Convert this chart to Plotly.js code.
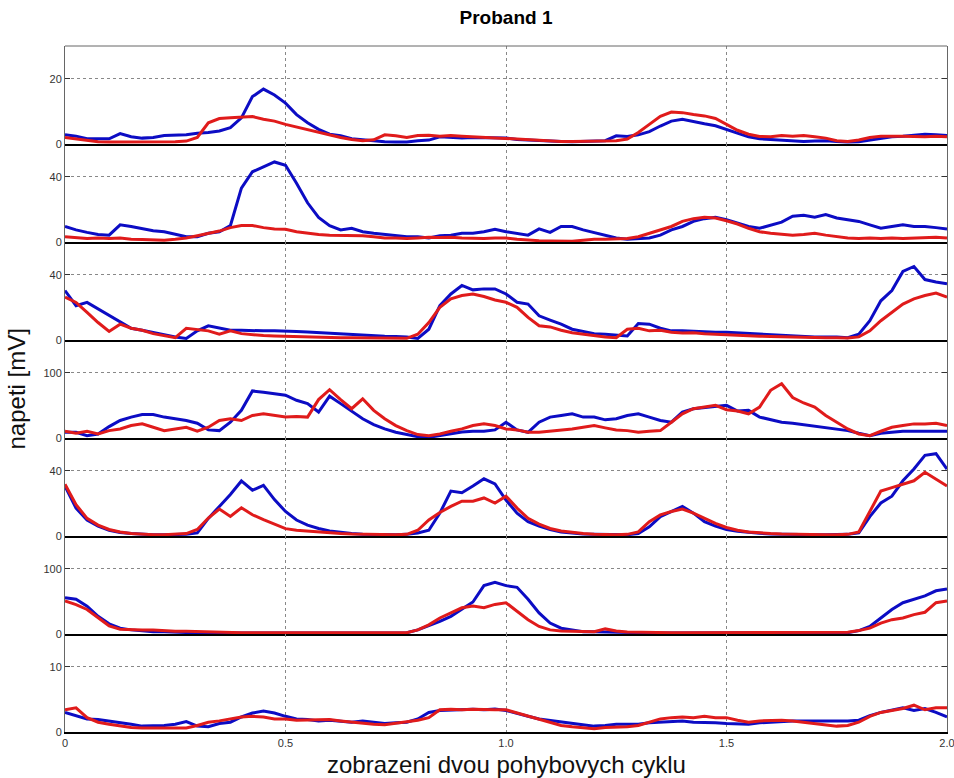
<!DOCTYPE html>
<html>
<head>
<meta charset="utf-8">
<script src="https://cdn.plot.ly/plotly-3.0.1.min.js"></script>
<style>html,body{margin:0;padding:0;background:#fff;}#chart{width:954px;height:778px;}</style>
</head>
<body>
<div id="chart"></div>
<script>
// shared time axis (two movement cycles)
const xs = [0,0.025,0.05,0.075,0.1,0.125,0.15,0.175,0.2,0.225,0.25,0.275,0.3,0.325,0.35,0.375,0.4,0.425,0.45,0.475,
  0.5,0.525,0.55,0.575,0.6,0.625,0.65,0.675,0.7,0.725,0.75,0.775,0.8,0.825,0.85,0.875,0.9,0.925,0.95,0.975,
  1.0,1.025,1.05,1.075,1.1,1.125,1.15,1.175,1.2,1.225,1.25,1.275,1.3,1.325,1.35,1.375,1.4,1.425,1.45,1.475,
  1.5,1.525,1.55,1.575,1.6,1.625,1.65,1.675,1.7,1.725,1.75,1.775,1.8,1.825,1.85,1.875,1.9,1.925,1.95,1.975,2.0];

const xTickVals = [0, 0.5, 1, 1.5, 2];
const xTickText = ['0', '0.5', '1.0', '1.5', '2.0'];

// panel y ranges and labelled tick
const yMax = [30, 60, 60, 150, 60, 150, 15];
const yTick = [20, 40, 40, 100, 40, 100, 10];

const p1Blue = [2.8,2.4,1.6,1.5,1.6,3.2,2.2,1.8,2.0,2.6, 2.8,2.8,3.3,3.5,4.0,5.0,8.0,14.5,16.8,15.0,
  12.5,9.0,6.5,4.5,3.0,2.5,1.6,1.3,0.9,0.7, 0.6,0.6,1.0,1.2,2.2,2.0,1.8,2.0,2.0,1.8,
  1.8,1.4,1.2,1.0,0.9,0.8,0.7,0.8,0.9,1.0, 2.5,2.3,2.8,3.8,5.5,7.0,7.6,6.8,6.2,5.6,
  4.4,3.2,2.2,1.6,1.4,1.0,0.8,0.8,0.9,1.0, 0.8,0.6,0.7,1.2,1.8,2.2,2.4,2.8,3.0,2.8, 2.6];
const p1Red = [2.0,1.5,1.0,0.7,0.6,0.6,0.6,0.6,0.6,0.6, 0.7,0.9,2.0,6.5,7.8,8.0,8.2,8.4,7.6,7.0,
  6.0,5.2,4.3,3.6,2.6,2.0,1.4,1.0,1.3,2.8, 2.5,2.0,2.6,2.7,2.4,2.6,2.4,2.2,2.2,2.0,
  1.8,1.6,1.2,1.0,0.8,0.8,0.8,0.9,0.8,0.9, 1.0,1.5,3.5,6.0,8.5,9.8,9.6,9.0,8.6,7.8,
  6.0,4.2,3.0,2.3,2.2,2.6,2.4,2.6,2.2,1.8, 1.0,0.8,1.2,2.0,2.4,2.5,2.4,2.3,2.2,2.4, 2.2];

const p2Blue = [9.5,7.4,5.9,4.6,4.2,10.5,9.5,8.4,6.9,6.3, 4.6,3.2,3.2,5.3,6.3,10,33,43,46,49,
  47,36,24,15,10,7.4,8.4,6.3,5.3,4.6, 3.8,3.2,3.2,2.5,3.8,4.2,5.3,5.3,6.3,7.8,
  6.3,5.3,4.2,8,5.9,9.5,9.5,7.4,5.9,4.2, 2.5,1.7,2.1,2.5,4.2,7.4,9.5,12.6,14.3,15.2,
  13.7,11.6,9.5,8.4,10.5,12.2,15.8,16.4,15.2,16.8, 14.7,13.7,12.6,10.5,8.4,9.5,10.5,9.5,9.5,8.8, 8];
const p2Red = [3.2,2.5,2.1,2.5,2.1,2.5,1.7,1.5,1.1,1.1, 1.7,2.5,3.8,5.1,6.7,8.8,10.1,10.1,8.8,8.0,
  7.8,6.3,5.3,4.6,4.2,4.2,3.8,3.8,3.2,2.5, 2.5,2.1,2.5,2.9,2.7,2.9,2.5,2.1,2.1,2.5,
  2.5,1.7,1.1,0.8,0.6,0.6,0.4,1.1,1.7,1.7, 1.7,2.1,3.2,5.3,7.4,9.5,12.6,14.3,15.2,14.7,
  13,11,8.4,6.3,5.3,4.6,4.2,4.6,5.3,4.2, 3.2,2.5,2.1,2.5,2.1,2.5,2.1,2.5,2.9,2.9, 2.5];

const p3Blue = [30.3,21,23,19,14.8,10.7,7.2,6,4.5,3.1, 1.9,1.0,5.6,8.7,7.2,6,6,5.6,5.6,5.6,
  5.2,5.2,4.9,4.5,4.3,3.5,3.1,2.7,2.5,2.3, 2.1,1.9,1.0,6.6,21,28.2,33.4,30.7,31.3,31.3,
  28.2,23.1,22,14.8,12.2,9.7,6.6,5.2,3.9,3.5, 3.1,2.5,10.1,9.7,7.2,5.6,5.6,5.2,5.2,4.7,
  4.7,4.3,3.9,3.5,3.1,2.7,2.3,2.1,1.9,1.9, 1.9,1.4,3.5,11.8,24,30.3,42,45,37,35.5, 34.4];
const p3Red = [26.2,23,16.9,10.7,5.2,9.7,7.2,6,3.9,2.5, 1.4,7.2,6.6,5.6,3.5,5.6,3.9,3.1,2.7,2.5,
  2.3,1.9,1.9,1.6,1.4,1.4,1.4,1.4,1.2,1.2, 1.2,1.0,3.5,10.7,20,25.2,27.2,28.2,26.6,24.5,
  23.1,20,13.8,8.7,8,6,4.5,3.5,2.7,1.9, 1.4,6.6,7.2,5.6,6,4.7,4.3,4.5,3.9,3.5,
  3.5,3.1,2.7,2.3,2.1,1.9,1.9,1.6,1.4,1.4, 1.4,1.2,1.9,5.6,11.8,16.9,22,25.2,27.2,28.7, 26.2];

const p4Blue = [8.8,8.8,3.6,6.2,17.5,26.8,32,36,36,32, 29.4,26.8,22.7,12.4,11.3,24.2,42.3,72,70,68,
  65.5,57.7,52.6,39.7,64,52.6,41,29.4,20.6,13.9, 8.8,5.2,2,1,3.6,7.2,9.3,10.3,10.3,12.4,
  24,12.4,8.8,24.2,32,34.5,37,32,32,27.8, 29.4,34.5,37,32,26.8,24.2,39.7,44.8,46.4,47.4,
  50,41.2,42.3,32,27.8,24.2,22.7,20.6,17.5,15.5, 13.9,11.3,7.2,3.6,7.2,8.8,10.3,10.3,10.3,10.3, 10.3];
const p4Red = [10.3,7.2,10.3,6.2,11.3,13.9,19,21.6,16.5,11.3, 13.9,16.5,10.3,16.5,26.8,29.4,26.8,34.5,37,34.5,
  32,33,32,58.8,74,58.8,44.8,60,42.3,29.4, 19,11.3,5.2,3.6,6.2,10.3,13.9,19,21.6,19,
  13.9,12.4,8.8,8.8,10.3,11.3,13.9,16.5,19,15.5, 12.4,11.3,8.8,10.3,11.3,24.2,37,44.8,47.4,50,
  43.3,41.2,37,47.4,73,83,62,53.6,47.4,34.5, 24.2,13.9,6.2,3.6,10.3,16.5,19,21.6,21.6,22.7, 19];

const p5Blue = [30.6,17,9.8,6,3.5,2.1,1.5,1,0.8,0.8, 0.8,1,1.9,10.8,18.1,25.4,33.7,28,31,22.3,
  15,9.8,6.7,4.6,3.1,2.1,1.5,1,0.8,0.8, 0.8,1,1.9,3.5,14,27.5,26.5,30.6,35,31.9,
  22,14,8.8,6,4,2.5,1.7,1.2,1,0.8, 0.8,0.8,1.5,5.6,11.9,15,18.1,14,8.8,6,
  4,2.9,2.1,1.7,1.2,1,0.8,0.8,0.8,0.8, 1,1,1.9,11.9,20.2,24.4,33.8,41,49.4,50.4, 41];
const p5Red = [31.7,19.2,10.8,6.7,4,2.5,1.5,1,0.8,0.8, 1,1.5,4,11,16.5,12,17.3,13,10,7,
  4.5,3.5,2.9,2.3,1.8,1.5,1.2,1,0.8,0.8, 0.8,1,3.5,9.8,14.4,18.1,21.3,21.3,23.3,20.2,
  24.4,17.1,10.8,7.3,4.6,3.1,2.1,1.5,1,0.8, 0.8,1,2.5,8.8,12.9,15,16.5,14,10.8,7.7,
  5.2,3.5,2.5,1.9,1.5,1.2,1,0.8,0.8,0.8, 0.8,1,2.5,15,27.5,29.6,31.7,33.8,39,34.8, 30.6];

const p6Blue = [55.7,53.1,42.7,27,15.6,8.9,6.3,4.7,3.6,3.6, 2.6,2.1,1.6,1.6,1.6,1.6,1.6,1.6,1.6,1.6,
  1.6,1.6,1.6,1.6,1.6,1.6,1.6,1.6,1.6,1.6, 1.6,2,6.3,12.5,19.3,27,37.5,49,74,79.2,
  74,71.4,53.1,32.3,16.7,8.9,6.3,3.6,3.6,3.1, 2,2,1.6,1.6,1.6,1.6,1.6,1.6,1.6,1.6,
  1.6,1.6,1.6,1.6,1.6,1.6,1.6,1.6,1.6,1.6, 1.6,2,5.2,11.5,24.5,37.5,47.9,53.1,58.3,66.1, 68.8];
const p6Red = [50.5,45,37.5,24.5,12.5,7.3,6.3,6.3,6.3,5.2, 4.2,4.2,3.6,3.1,3.1,2.6,2,2,2,2,
  2,2,2,2,2,2,2,2,2,2, 2,2,6.3,14,24.5,32.3,40.1,42.7,40.1,45.3,
  47.9,34.9,21.9,11.5,6.3,4.7,4.2,3.6,3.6,7.8, 4.7,3.1,2.6,2.6,2.2,2,2,2,2,2,
  2,2,2,2,2,2,2,2,2,2, 2,2.6,5.2,8.9,16.7,21.9,24.5,29.7,33.3,47.9, 50.5];

const p7Blue = [3.0,2.5,2.0,1.9,1.7,1.5,1.2,0.9,0.9,1.0, 1.2,1.6,0.9,0.8,1.3,1.5,2.3,2.9,3.2,2.9,
  2.4,2.0,1.9,1.7,1.8,1.7,1.5,1.7,1.5,1.3, 1.4,1.5,2.0,3.0,3.3,3.4,3.4,3.5,3.4,3.5,
  3.3,2.8,2.4,2.0,1.8,1.5,1.4,1.2,0.9,1.0, 1.2,1.2,1.2,1.4,1.5,1.7,1.7,1.5,1.5,1.4,
  1.3,1.2,1.2,1.4,1.5,1.7,1.7,1.7,1.7,1.6, 1.7,1.7,1.8,2.5,3.0,3.4,3.7,3.3,3.6,3.0, 2.3];
const p7Red = [3.4,3.7,2.2,1.5,1.2,0.9,0.7,0.6,0.6,0.6, 0.6,0.6,1.0,1.5,1.7,2.0,2.3,2.4,2.3,2.0,
  2.0,1.8,1.8,1.9,1.9,1.7,1.5,1.4,1.2,1.1, 1.3,1.5,1.8,2.2,3.4,3.5,3.4,3.5,3.4,3.4,
  3.4,2.9,2.4,1.9,1.4,1.0,0.8,0.6,0.5,0.7, 0.7,0.8,1.0,1.5,2.0,2.2,2.3,2.2,2.4,2.2,
  2.2,1.8,1.5,1.7,1.8,1.8,1.7,1.5,1.3,1.0, 0.9,1.0,1.5,2.4,3.0,3.3,3.6,4.1,3.4,3.7, 3.7];

const blueSeries = [p1Blue, p2Blue, p3Blue, p4Blue, p5Blue, p6Blue, p7Blue];
const redSeries = [p1Red, p2Red, p3Red, p4Red, p5Red, p6Red, p7Red];

const BLUE = '#0c0cc4';
const RED = '#e01b1b';
const FONT = 'Liberation Sans, Arial, sans-serif';

const traces = [];
const layout = {
  width: 954, height: 778,
  margin: {l: 65, r: 7, t: 46, b: 46},
  paper_bgcolor: '#fff', plot_bgcolor: '#fff',
  showlegend: false,
  font: {family: FONT, size: 11, color: '#333'},
  title: {text: '<b>Proband 1</b>', font: {family: FONT, size: 19, color: '#000'},
          x: 0.5, xref: 'paper', xanchor: 'center', y: 1 - 17/778, yref: 'container', yanchor: 'middle'},
  annotations: [
    {text: 'napeti [mV]', xref: 'paper', yref: 'paper', x: -0.055, y: 0.5, textangle: -90,
     xanchor: 'center', yanchor: 'middle', showarrow: false, font: {family: FONT, size: 24, color: '#111'}},
    {text: 'zobrazeni dvou pohybovych cyklu', xref: 'paper', yref: 'paper', x: 0.5, y: -0.048,
     xanchor: 'center', yanchor: 'middle', showarrow: false, font: {family: FONT, size: 24, color: '#111'}}
  ],
  shapes: [
    {type: 'line', xref: 'paper', yref: 'paper', x0: 0, x1: 1, y0: 1, y1: 1, line: {color: '#666', width: 1}}
  ]
};

const n = 7;
for (let i = 0; i < n; i++) {
  const sfx = i === 0 ? '' : String(i + 1);
  const xa = 'x' + sfx, ya = 'y' + sfx;
  traces.push({x: xs, y: blueSeries[i], xaxis: xa, yaxis: ya, type: 'scatter', mode: 'lines',
               line: {color: BLUE, width: 3}, hoverinfo: 'skip'});
  traces.push({x: xs, y: redSeries[i], xaxis: xa, yaxis: ya, type: 'scatter', mode: 'lines',
               line: {color: RED, width: 3}, hoverinfo: 'skip'});
  const top = 1 - i / n, bot = 1 - (i + 1) / n;
  const isBottom = i === n - 1;
  layout['xaxis' + sfx] = {
    domain: [0, 1], anchor: ya, range: [0, 2],
    tickvals: isBottom ? xTickVals : [0.5, 1, 1.5],
    ticktext: isBottom ? xTickText : ['', '', ''],
    showticklabels: isBottom, ticks: '', ticklabeloverflow: 'allow',
    showgrid: true, gridcolor: '#888', griddash: 'dot', gridwidth: 1,
    zeroline: false, showline: true, linecolor: '#000', linewidth: 2, mirror: false,
    tickfont: {family: FONT, size: 11, color: '#333'},
    fixedrange: true
  };
  layout['yaxis' + sfx] = {
    domain: [bot, top], anchor: xa, range: [0, yMax[i]],
    tickvals: [0, yTick[i]], ticktext: ['0', String(yTick[i])],
    ticks: 'inside', ticklen: 5, tickcolor: '#333', tickwidth: 1,
    showgrid: true, gridcolor: '#888', griddash: 'dot', gridwidth: 1,
    zeroline: false, showline: true, linecolor: '#666', linewidth: 1, mirror: 'ticks',
    tickfont: {family: FONT, size: 11, color: '#333'},
    fixedrange: true
  };
}

Plotly.newPlot('chart', traces, layout, {staticPlot: true, displayModeBar: false});
</script>
</body>
</html>
